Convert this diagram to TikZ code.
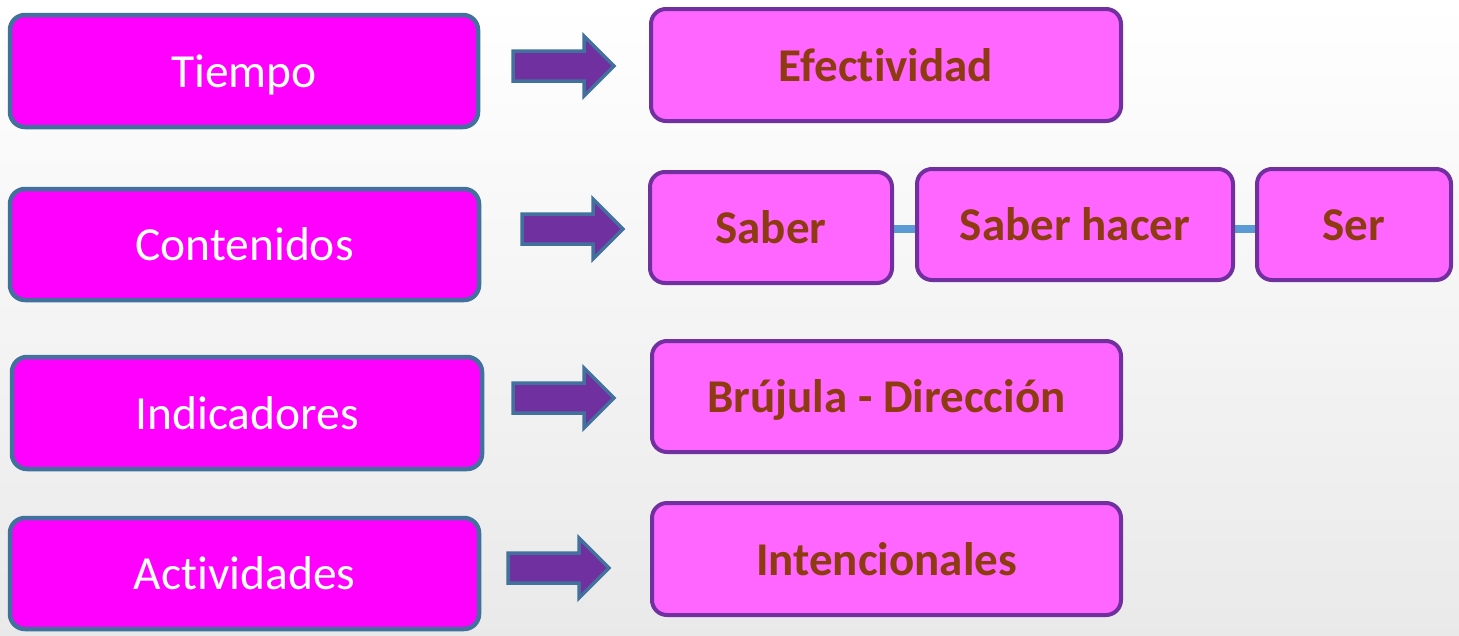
\documentclass[tikz,border=0pt]{standalone}
\usepackage{fontspec}
\setmainfont[Ligatures=CommonOff]{Carlito}
\definecolor{lborder}{HTML}{41719C}
\definecolor{lfill}{HTML}{FF00FF}
\definecolor{rborder}{HTML}{7030A0}
\definecolor{rfill}{HTML}{FF66FF}
\definecolor{rtext}{HTML}{8E3B12}
\definecolor{arrowfill}{HTML}{7030A0}
\definecolor{linkblue}{HTML}{5B9BD5}
\tikzset{
  leftbox/.style={draw=lborder, fill=lfill, line width=4.5pt, rounded corners=15pt,
    text=white, font=\fontsize{47.5}{50}\selectfont, inner sep=0pt, text depth=0pt},
  rightbox/.style={draw=rborder, fill=rfill, line width=4pt, rounded corners=15pt,
    text=rtext, font=\fontsize{47}{50}\selectfont\bfseries, inner sep=0pt},
  blockarrow/.style={draw=lborder, fill=arrowfill, line width=3.5pt, line join=miter},
  link/.style={draw=linkblue, line width=8pt}
}
\newcommand{\boxat}[7]{% style, name, x1,y1,x2,y2, text
  \node[#1, minimum width={(#5-#3)*1pt}, minimum height={(#6-#4)*1pt}] (#2) at ({(#3+#5)/2},{(#4+#6)/2}) {};
  \node[#1, draw=none, fill=none, anchor=base] at ({(#3+#5)/2},{(#4+#6)/2+16}) {#7};}
\newcommand{\blockarr}[3]{% xleft, xtip, ycenter
  \draw[blockarrow] (#1,#3-15) -- (#2-30,#3-15) -- (#2-30,#3-30) -- (#2,#3) -- (#2-30,#3+30) -- (#2-30,#3+15) -- (#1,#3+15) -- cycle;}
\begin{document}
\begin{tikzpicture}[x=1pt,y=-1pt]
\shade[top color=white, bottom color=gray!17] (0,0) rectangle (1459,635);
\useasboundingbox (0,0) rectangle (1459,635);
% left boxes
\boxat{leftbox}{tiempo}{10}{15}{478}{127}{Tiempo}
\boxat{leftbox}{contenidos}{10}{189}{479}{300}{Contenidos}
\boxat{leftbox}{indicadores}{12}{357}{482}{469}{Indicadores}
\boxat{leftbox}{actividades}{10}{518}{479}{629}{Actividades}
% arrows
\blockarr{513}{614}{66}
\blockarr{522}{623}{229}
\blockarr{513}{614}{398}
\blockarr{508}{609}{568}
% links (behind right boxes)
\coordinate (l1) at (880,229);
\coordinate (l2) at (930,229);
\coordinate (l3) at (1220,229);
\coordinate (l4) at (1270,229);
\draw[link] (l1) -- (l2);
\draw[link] (l3) -- (l4);
% right boxes
\boxat{rightbox}{efectividad}{651}{9}{1121}{121}{Efectividad}
\boxat{rightbox}{saber}{650}{172}{892}{283}{Saber}
\boxat{rightbox}{saberhacer}{917}{169}{1233}{280}{Saber hacer}
\boxat{rightbox}{ser}{1257}{169}{1451}{280}{Ser}
\boxat{rightbox}{brujula}{652}{341}{1121}{452}{Brújula - Dirección}
\boxat{rightbox}{intencionales}{652}{503}{1121}{615}{Intencionales}
\end{tikzpicture}
\end{document}
